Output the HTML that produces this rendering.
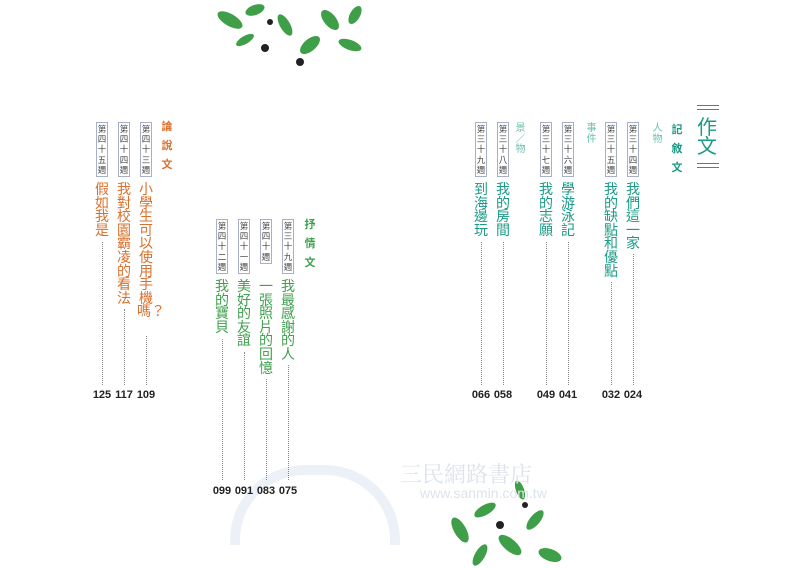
<!DOCTYPE html>
<html><head><meta charset="utf-8"><style>
body{margin:0;width:800px;height:568px;background:#fff;position:relative;overflow:hidden;font-family:"Liberation Sans","Noto Sans CJK TC",sans-serif}
.a{position:absolute}
.b{position:absolute;width:10px;border:1px solid #a8b0c8;font-size:8.5px;line-height:10.2px;color:#444;text-align:center;padding:1px 0;word-break:break-all}
.t{position:absolute;width:18px;font-size:14px;line-height:13.6px;text-align:center;word-break:break-all}
.d{position:absolute;border-left:1.5px dotted #888;width:0}
.n{position:absolute;font-size:11px;font-weight:bold;color:#222;width:24px;text-align:center}
.h{position:absolute;font-weight:bold;font-size:11px;line-height:19px;width:12px;word-break:break-all;text-align:center}
.s{position:absolute;font-size:10px;line-height:10.5px;width:11px;word-break:break-all;text-align:center}
.teal{color:#1c9a86}.or{color:#d8702e}.gr{color:#3fa04e}
</style></head><body>
<!-- leaves top -->
<svg class="a" style="left:210px;top:0" width="170" height="80">
<g fill="#3f9e48">
<ellipse cx="20" cy="20" rx="14" ry="6" transform="rotate(30 20 20)"/>
<ellipse cx="45" cy="10" rx="10" ry="5" transform="rotate(-20 45 10)"/>
<ellipse cx="75" cy="25" rx="12" ry="5" transform="rotate(60 75 25)"/>
<ellipse cx="100" cy="45" rx="12" ry="6" transform="rotate(-40 100 45)"/>
<ellipse cx="120" cy="20" rx="12" ry="6" transform="rotate(50 120 20)"/>
<ellipse cx="145" cy="15" rx="10" ry="5" transform="rotate(-60 145 15)"/>
<ellipse cx="140" cy="45" rx="12" ry="5" transform="rotate(20 140 45)"/>
<ellipse cx="35" cy="40" rx="10" ry="4" transform="rotate(-30 35 40)"/>
</g>
<g fill="#222"><circle cx="55" cy="48" r="4"/><circle cx="90" cy="62" r="4"/><circle cx="60" cy="22" r="3"/></g>
</svg>
<!-- leaves bottom -->
<svg class="a" style="left:440px;top:470px" width="130" height="98">
<g fill="#3f9e48">
<ellipse cx="20" cy="60" rx="14" ry="6" transform="rotate(60 20 60)"/>
<ellipse cx="45" cy="40" rx="12" ry="5" transform="rotate(-30 45 40)"/>
<ellipse cx="70" cy="75" rx="14" ry="6" transform="rotate(40 70 75)"/>
<ellipse cx="95" cy="50" rx="12" ry="5" transform="rotate(-50 95 50)"/>
<ellipse cx="110" cy="85" rx="12" ry="6" transform="rotate(20 110 85)"/>
<ellipse cx="40" cy="85" rx="12" ry="5" transform="rotate(-60 40 85)"/>
<ellipse cx="80" cy="20" rx="10" ry="4" transform="rotate(70 80 20)"/>
</g>
<g fill="#222"><circle cx="60" cy="55" r="4"/><circle cx="85" cy="35" r="3"/></g>
</svg>
<!-- watermark -->
<div class="a" style="left:400px;top:458px;font-size:22px;color:#dde3ec;font-family:'Liberation Serif','Noto Serif CJK SC',serif">三民網路書店</div>
<div class="a" style="left:420px;top:485px;font-size:14px;color:#dde3ec">www.sanmin.com.tw</div>
<div class="a" style="left:230px;top:465px;width:150px;height:70px;border-radius:75px 75px 0 0;border:10px solid #e8eef6;border-bottom:none;opacity:.8"></div>

<!-- Title -->
<div class="a" style="left:697px;top:105px;width:22px;border-top:1px solid #1c9a86;border-bottom:1px solid #1c9a86;height:3px"></div>
<div class="a teal" style="left:697px;top:119px;width:22px;font-size:20px;line-height:19px;word-break:break-all">作文</div>
<div class="a" style="left:697px;top:163px;width:22px;border-top:1px solid #1c9a86;border-bottom:1px solid #1c9a86;height:3px"></div>
<div class="h teal" style="left:671px;top:121px">記敘文</div>
<div class="s" style="left:652px;top:124px;color:#6cc0b0">人物</div>
<div class="s" style="left:586px;top:124px;color:#6cc0b0">事件</div>
<div class="s" style="left:515px;top:124px;color:#6cc0b0">景／物</div>

<div class="h or" style="left:161px;top:118px">論說文</div>
<div class="h gr" style="left:304px;top:216px">抒情文</div>

<!-- right group -->
<div class="b" style="left:627px;top:122px">第三十四週</div>
<div class="t teal" style="left:624px;top:183px">我們這一家</div>
<div class="d" style="left:633px;top:254px;height:131px"></div>
<div class="n" style="left:621px;top:389px">024</div>

<div class="b" style="left:605px;top:122px">第三十五週</div>
<div class="t teal" style="left:602px;top:183px">我的缺點和優點</div>
<div class="d" style="left:611px;top:282px;height:103px"></div>
<div class="n" style="left:599px;top:389px">032</div>

<div class="b" style="left:562px;top:122px">第三十六週</div>
<div class="t teal" style="left:559px;top:183px">學游泳記</div>
<div class="d" style="left:568px;top:242px;height:143px"></div>
<div class="n" style="left:556px;top:389px">041</div>

<div class="b" style="left:540px;top:122px">第三十七週</div>
<div class="t teal" style="left:537px;top:183px">我的志願</div>
<div class="d" style="left:546px;top:242px;height:143px"></div>
<div class="n" style="left:534px;top:389px">049</div>

<div class="b" style="left:497px;top:122px">第三十八週</div>
<div class="t teal" style="left:494px;top:183px">我的房間</div>
<div class="d" style="left:503px;top:242px;height:143px"></div>
<div class="n" style="left:491px;top:389px">058</div>

<div class="b" style="left:475px;top:122px">第三十九週</div>
<div class="t teal" style="left:472px;top:183px">到海邊玩</div>
<div class="d" style="left:481px;top:242px;height:143px"></div>
<div class="n" style="left:469px;top:389px">066</div>

<!-- left group -->
<div class="b" style="left:140px;top:122px">第四十三週</div>
<div class="t or" style="left:137px;top:183px">小學生可以使用手機嗎？</div>
<div class="d" style="left:146px;top:336px;height:49px"></div>
<div class="n" style="left:134px;top:389px">109</div>

<div class="b" style="left:118px;top:122px">第四十四週</div>
<div class="t or" style="left:115px;top:183px">我對校園霸凌的看法</div>
<div class="d" style="left:124px;top:309px;height:76px"></div>
<div class="n" style="left:112px;top:389px">117</div>

<div class="b" style="left:96px;top:122px">第四十五週</div>
<div class="t or" style="left:93px;top:183px">假如我是</div>
<div class="d" style="left:102px;top:242px;height:143px"></div>
<div class="n" style="left:90px;top:389px">125</div>

<!-- middle group -->
<div class="b" style="left:282px;top:219px">第三十九週</div>
<div class="t gr" style="left:279px;top:280px">我最感謝的人</div>
<div class="d" style="left:288px;top:365px;height:115px"></div>
<div class="n" style="left:276px;top:485px">075</div>

<div class="b" style="left:260px;top:219px">第四十週</div>
<div class="t gr" style="left:257px;top:280px">一張照片的回憶</div>
<div class="d" style="left:266px;top:379px;height:101px"></div>
<div class="n" style="left:254px;top:485px">083</div>

<div class="b" style="left:238px;top:219px">第四十一週</div>
<div class="t gr" style="left:235px;top:280px">美好的友誼</div>
<div class="d" style="left:244px;top:352px;height:128px"></div>
<div class="n" style="left:232px;top:485px">091</div>

<div class="b" style="left:216px;top:219px">第四十二週</div>
<div class="t gr" style="left:213px;top:280px">我的寶貝</div>
<div class="d" style="left:222px;top:339px;height:141px"></div>
<div class="n" style="left:210px;top:485px">099</div>
</body></html>
